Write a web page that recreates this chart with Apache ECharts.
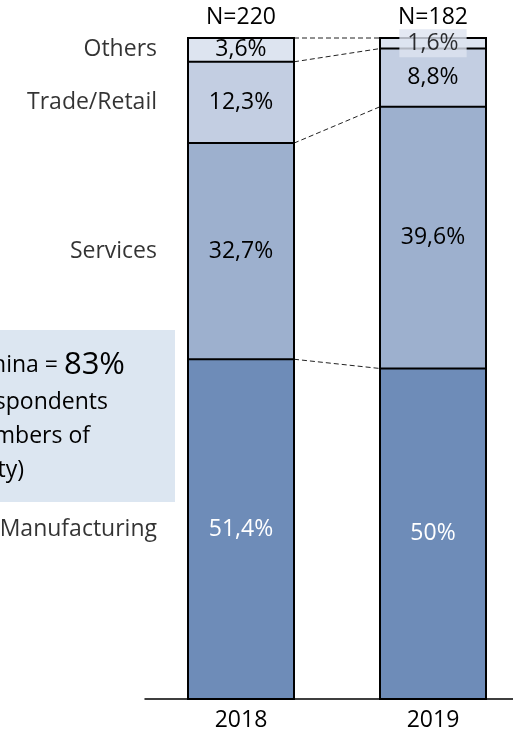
<!DOCTYPE html>
<html>
<head>
<meta charset="utf-8">
<script src="https://cdn.jsdelivr.net/npm/echarts@6/dist/echarts.min.js"></script>
<style>
html,body{margin:0;padding:0;background:#fff;}
#chart{width:513px;height:745px;}
</style>
</head>
<body>
<div id="chart"></div>
<script>
var years = ['2018', '2019'];
var sampleSizes = ['N=220', 'N=182'];
var sectors = ['Manufacturing', 'Services', 'Trade/Retail', 'Others'];
var manufacturing = [51.4, 50];
var services = [32.7, 39.6];
var tradeRetail = [12.3, 8.8];
var others = [3.6, 1.6];
var labelText = {
  Manufacturing: ['51,4%', '50%'],
  Services: ['32,7%', '39,6%'],
  'Trade/Retail': ['12,3%', '8,8%'],
  Others: ['3,6%', '1,6%']
};
var calloutLines = ['Membership in China = ', '(of respondents', 'are members of', 'the community)'];
var calloutValue = '83%';

var FONT = 'Open Sans';
var FS = 23;
var colors = ['#6E8CB8', '#9DB0CE', '#C3CEE2', '#DDE4F0'];
var seriesValues = [manufacturing, services, tradeRetail, others];
var BAR_W = 106;

var chart = echarts.init(document.getElementById('chart'));

var barSeries = sectors.map(function (name, si) {
  return {
    name: name,
    type: 'bar',
    stack: 'total',
    barWidth: BAR_W,
    itemStyle: { color: colors[si], borderWidth: 0 },
    label: {
      show: true,
      position: 'inside',
      fontFamily: FONT,
      fontSize: FS,
      color: si === 0 ? '#fff' : '#000',
      formatter: function (p) { return labelText[name][p.dataIndex]; }
    },
    data: seriesValues[si].map(function (v, di) {
      if (name === 'Others' && di === 1) {
        return { value: v, label: { show: false } };
      }
      return v;
    }),
    z: 2
  };
});

function cum(di, uptoIdx) {
  var s = 0;
  for (var i = 0; i <= uptoIdx; i++) s += seriesValues[i][di];
  return s;
}
var boundaries = [];
for (var k = 0; k < sectors.length; k++) {
  boundaries.push([cum(0, k), cum(1, k)]);
}
var totals = years.map(function (y, di) { return [di, cum(di, sectors.length - 1)]; });

var midPoints2018 = sectors.map(function (name, si) {
  var top = cum(0, si);
  var bottom = top - seriesValues[si][0];
  return { name: name, value: [0, (top + bottom) / 2] };
});
var lastIdx = sectors.length - 1;
var othersTop2019 = cum(1, lastIdx);
var othersMid2019 = othersTop2019 - seriesValues[lastIdx][1] / 2;

var option = {
  animation: false,
  backgroundColor: '#fff',
  grid: { left: 145, width: 384, top: 38, bottom: 46, outerBoundsMode: 'none', containLabel: false },
  xAxis: [
    {
      type: 'category',
      data: years,
      position: 'bottom',
      axisLine: { show: true, lineStyle: { color: '#000', width: 1.5 } },
      axisTick: { show: false },
      axisLabel: { fontFamily: FONT, fontSize: FS, color: '#000', margin: 10 }
    },
    {
      type: 'category',
      data: sampleSizes,
      position: 'top',
      axisLine: { show: false },
      axisTick: { show: false },
      axisLabel: { fontFamily: FONT, fontSize: FS, color: '#000', margin: 9 }
    }
  ],
  yAxis: { type: 'value', min: 0, max: 100, show: false },
  series: barSeries.concat([
    {
      type: 'custom',
      coordinateSystem: 'cartesian2d',
      data: boundaries,
      z: 3,
      renderItem: function (params, api) {
        var p1 = api.coord([0, api.value(0)]);
        var p2 = api.coord([1, api.value(1)]);
        var h = BAR_W / 2;
        return {
          type: 'group',
          children: [
            { type: 'line', shape: { x1: p1[0] + h, y1: p1[1], x2: p2[0] - h, y2: p2[1] },
              style: { stroke: '#222', lineWidth: 1, lineDash: [5, 3] } },
            { type: 'line', shape: { x1: p1[0] - h, y1: p1[1], x2: p1[0] + h, y2: p1[1] },
              style: { stroke: '#000', lineWidth: 2 } },
            { type: 'line', shape: { x1: p2[0] - h, y1: p2[1], x2: p2[0] + h, y2: p2[1] },
              style: { stroke: '#000', lineWidth: 2 } }
          ]
        };
      },
      encode: { x: 0, y: 1 }
    },
    {
      type: 'custom',
      coordinateSystem: 'cartesian2d',
      data: totals,
      z: 3,
      renderItem: function (params, api) {
        var top = api.coord([api.value(0), api.value(1)]);
        var bot = api.coord([api.value(0), 0]);
        var h = BAR_W / 2;
        return {
          type: 'rect',
          shape: { x: top[0] - h, y: top[1], width: BAR_W, height: bot[1] - top[1] },
          style: { fill: null, stroke: '#000', lineWidth: 2 }
        };
      },
      encode: { x: 0, y: 1 }
    },
    {
      type: 'scatter',
      symbolSize: 0,
      data: midPoints2018,
      label: {
        show: true,
        position: 'left',
        distance: 84,
        fontFamily: FONT,
        fontSize: FS,
        color: '#000',
        formatter: function (p) { return p.name; }
      },
      z: 5
    },
    {
      type: 'scatter',
      symbolSize: 0,
      zlevel: 1,
      data: [[1, othersMid2019]],
      label: {
        show: true,
        position: 'inside',
        fontFamily: FONT,
        fontSize: FS,
        lineHeight: 28,
        color: '#000',
        backgroundColor: '#DDE4F0',
        padding: [0, 8, 0, 8],
        formatter: function () { return labelText.Others[1]; }
      },
      z: 6
    }
  ]),
  graphic: [
    {
      type: 'rect',
      shape: { x: 0, y: 330, width: 175, height: 172 },
      style: { fill: '#DCE6F1' },
      z: 0
    },
    {
      type: 'text',
      x: 125, y: 365,
      style: {
        text: '{a|' + calloutLines[0] + '}{b|' + calloutValue + '}',
        align: 'right', verticalAlign: 'middle',
        rich: {
          a: { fontFamily: FONT, fontSize: FS, fill: '#000' },
          b: { fontFamily: FONT, fontSize: 31, fill: '#000' }
        }
      },
      z: 10
    },
    {
      type: 'text', x: 108, y: 402,
      style: { text: calloutLines[1], align: 'right', verticalAlign: 'middle', font: FS + 'px "' + FONT + '"', fill: '#000' },
      z: 10
    },
    {
      type: 'text', x: 90, y: 436,
      style: { text: calloutLines[2], align: 'right', verticalAlign: 'middle', font: FS + 'px "' + FONT + '"', fill: '#000' },
      z: 10
    },
    {
      type: 'text', x: 24, y: 470,
      style: { text: calloutLines[3], align: 'right', verticalAlign: 'middle', font: FS + 'px "' + FONT + '"', fill: '#000' },
      z: 10
    }
  ]
};
chart.setOption(option);
</script>
</body>
</html>
